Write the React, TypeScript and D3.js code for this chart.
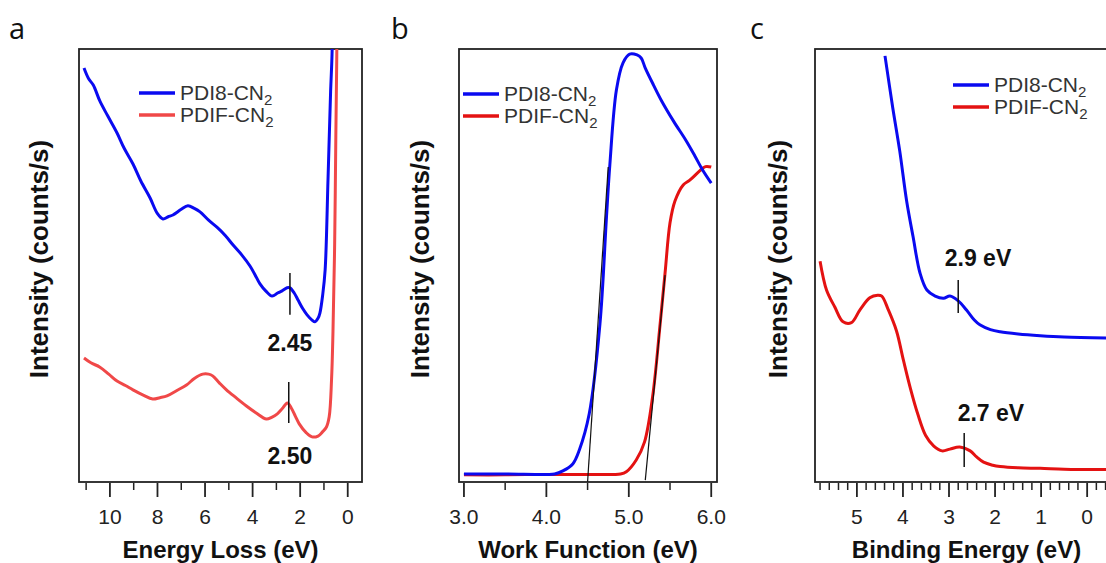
import React from "react";
import * as d3 from "d3";

// ---------- DATA (x in eV, intensity in arbitrary units 0-100) ----------
const lossBlue: [number, number][] = [
  [11.09, 95.4], [10.9, 93.0], [10.7, 91.5], [10.42, 87.8], [10.1, 84.5], [9.7, 80.5], [9.4, 77.0],
  [9.03, 73.4], [8.7, 69.5], [8.31, 65.6], [8.0, 62.0], [7.77, 60.8], [7.55, 61.3], [7.35, 61.7],
  [7.0, 63.0], [6.72, 63.8], [6.45, 63.2], [6.21, 62.4], [5.85, 60.5], [5.5, 58.9], [5.15, 57.0],
  [4.82, 54.8], [4.45, 52.5], [4.11, 50.0], [3.9, 48.0], [3.69, 45.9], [3.45, 44.3], [3.18, 43.1],
  [2.95, 43.8], [2.76, 44.3], [2.55, 45.0], [2.43, 45.0], [2.25, 43.8], [2.09, 42.2], [1.9, 40.3],
  [1.71, 38.8], [1.5, 37.6], [1.38, 37.2], [1.25, 38.0], [1.17, 39.2], [1.05, 43.5], [0.95, 49.1],
  [0.83, 69.7], [0.72, 90.0], [0.66, 98.6], [0.62, 115],
];
const lossRed: [number, number][] = [
  [11.09, 28.9], [10.8, 27.8], [10.42, 26.8], [10.05, 25.2], [9.7, 23.6], [9.35, 22.6], [9.03, 21.6],
  [8.6, 20.4], [8.2, 19.5], [7.9, 19.8], [7.6, 20.2], [7.2, 21.4], [6.78, 22.7], [6.45, 24.2],
  [6.1, 25.2], [5.85, 25.2], [5.68, 24.8], [5.4, 23.2], [5.1, 21.6], [4.7, 19.8], [4.26, 17.9],
  [3.85, 16.3], [3.42, 14.9], [3.2, 15.3], [2.96, 16.1], [2.75, 17.3], [2.54, 18.6], [2.38, 17.5],
  [2.2, 15.5], [2.04, 13.8], [1.75, 11.8], [1.5, 10.8], [1.25, 11.0], [1.07, 11.9], [0.9, 13.0],
  [0.78, 15.4], [0.68, 24.0], [0.62, 35.0], [0.55, 55.0], [0.5, 80.0], [0.46, 98.6], [0.44, 115],
];

const wfBlue: [number, number][] = [
  [3.0, 2.3], [3.5, 2.3], [4.0, 2.2], [4.1, 2.3], [4.2, 3.0], [4.32, 4.6], [4.4, 7.8], [4.52, 16.1],
  [4.65, 36.7], [4.73, 61.5], [4.77, 73.2], [4.85, 90.4], [4.93, 96.6], [5.01, 98.6], [5.1, 98.4],
  [5.15, 97.7], [5.2, 95.4], [5.3, 91.5], [5.4, 87.8], [5.55, 83.0], [5.69, 78.9], [5.8, 75.3],
  [5.89, 72.2], [6.0, 69.0],
];
const wfRed: [number, number][] = [
  [3.0, 2.1], [3.5, 2.1], [4.0, 2.2], [4.5, 2.2], [4.9, 2.3], [4.97, 2.8], [5.09, 5.5], [5.19, 9.6],
  [5.29, 20.2], [5.38, 36.7], [5.44, 48.4], [5.5, 59.9], [5.56, 64.9], [5.66, 68.6], [5.74, 69.7],
  [5.86, 71.8], [5.93, 72.8], [6.0, 72.7],
];
const wfTangentStart: [number, number][] = [[4.5, 0.5], [5.2, 0.9]];
const wfTangentEnd: [number, number][] = [[4.75, 72.7], [5.44, 47.9]];

const beBlue: [number, number][] = [
  [4.39, 98.2], [4.22, 86.2], [4.07, 76.4], [3.92, 64.9], [3.78, 56.7], [3.63, 48.4], [3.48, 44.5],
  [3.3, 43.1], [3.12, 42.6], [2.98, 43.1], [2.8, 42.0], [2.62, 39.9], [2.45, 37.6], [2.33, 36.5],
  [2.1, 35.4], [1.89, 34.9], [1.5, 34.4], [1.02, 34.0], [0.5, 33.7], [-0.43, 33.5],
];
const beRed: [number, number][] = [
  [5.8, 51.1], [5.66, 44.5], [5.48, 40.6], [5.3, 37.2], [5.12, 37.0], [4.93, 40.0], [4.72, 42.7],
  [4.55, 43.3], [4.46, 43.1], [4.32, 40.0], [4.14, 35.1], [3.99, 28.4], [3.84, 22.0], [3.68, 16.1],
  [3.51, 11.2], [3.33, 8.7], [3.15, 7.6], [2.98, 8.0], [2.77, 8.5], [2.54, 7.6], [2.4, 6.2],
  [2.25, 5.0], [2.05, 4.3], [1.89, 4.0], [1.5, 3.7], [1.02, 3.6], [0.5, 3.4], [-0.43, 3.3],
];

const lossTicks = [10, 8, 6, 4, 2, 0];
const lossMinor = [11, 9, 7, 5, 3, 1];
const wfTicks = [3.0, 4.0, 5.0, 6.0];
const wfMinor = [3.5, 4.5, 5.5];
const beTicks = [5, 4, 3, 2, 1, 0];

const seriesNames = ["PDI8-CN", "PDIF-CN"];

// Annotation markers: [x, yLow, yHigh]
const lossMarkers: [number, number, number][] = [[2.43, 38.8, 48.4], [2.48, 14.0, 23.4]];
const lossMarkerLabels = ["2.45", "2.50"];
const lossLabelPos: [number, number][] = [[2.43, 32.3], [2.43, 6.6]];
const beMarkers: [number, number, number][] = [[2.8, 39.2, 46.8], [2.67, 3.9, 11.7]];
const beMarkerLabels = ["2.9 eV", "2.7 eV"];
const beLabelPos: [number, number][] = [[2.37, 51.8], [2.09, 16.3]];

// ---------- LAYOUT ----------
const W = 1106, H = 563;
const TOP = 49, BOTTOM = 482;
const BLUE = "#0a0af0";
const RED_A = "#f04848";
const RED = "#e41212";
const FONT = "'Liberation Sans', Arial, sans-serif";

const yScale = d3.scaleLinear().domain([0, 100]).range([484, 48]);

type PanelProps = {
  id: string;
  letter: string;
  letterX: number;
  x: d3.ScaleLinear<number, number>;
  left: number;
  right: number;
  ticks: number[];
  minor: number[];
  fmt: (v: number) => string;
  xTitle: string;
  yTitleX: number;
  blue: [number, number][];
  red: [number, number][];
  redColor: string;
  legendX: number;
  legendY: number;
  children?: React.ReactNode;
};

function Panel(p: PanelProps) {
  const line = d3
    .line<[number, number]>()
    .x((d) => p.x(d[0]))
    .y((d) => yScale(d[1]))
    .curve(d3.curveCatmullRom.alpha(0.5));
  const clipId = "clip-" + p.id;
  const cx = (p.left + p.right) / 2;
  return (
    <g>
      <defs>
        <clipPath id={clipId}>
          <rect x={p.left} y={TOP} width={p.right - p.left} height={BOTTOM - TOP} />
        </clipPath>
      </defs>
      <text x={p.letterX} y={39} fontFamily="'Open Sans', sans-serif" fontSize={29} fill="#111">
        {p.letter}
      </text>
      <rect x={p.left} y={TOP} width={p.right - p.left} height={BOTTOM - TOP} fill="none" stroke="#222" strokeWidth={1.8} />
      {p.ticks.map((t) => (
        <g key={"t" + t}>
          <line x1={p.x(t)} x2={p.x(t)} y1={BOTTOM + 1} y2={BOTTOM + 15} stroke="#222" strokeWidth={1.8} />
          <text x={p.x(t)} y={524} textAnchor="middle" fontFamily={FONT} fontSize={21} fill="#222">
            {p.fmt(t)}
          </text>
        </g>
      ))}
      {p.minor.map((t) => (
        <line key={"m" + t} x1={p.x(t)} x2={p.x(t)} y1={BOTTOM + 1} y2={BOTTOM + 8} stroke="#222" strokeWidth={1.5} />
      ))}
      <text x={cx} y={558} textAnchor="middle" fontFamily={FONT} fontWeight="bold" fontSize={24} fill="#111">
        {p.xTitle}
      </text>
      <text
        transform={`translate(${p.yTitleX},${259}) rotate(-90)`}
        textAnchor="middle"
        dominantBaseline="central"
        fontFamily={FONT}
        fontWeight="bold"
        fontSize={26}
        fill="#111"
      >
        Intensity (counts/s)
      </text>
      <g clipPath={`url(#${clipId})`}>
        <path d={line(p.red) || ""} fill="none" stroke={p.redColor} strokeWidth={3} strokeLinejoin="round" />
        <path d={line(p.blue) || ""} fill="none" stroke={BLUE} strokeWidth={3} strokeLinejoin="round" />
        {p.children}
      </g>
      {[BLUE, p.redColor].map((c, i) => (
        <g key={c}>
          <line x1={p.legendX} x2={p.legendX + 36} y1={p.legendY + i * 22} y2={p.legendY + i * 22} stroke={c} strokeWidth={3.5} />
          <text x={p.legendX + 41} y={p.legendY + i * 22 + 7} fontFamily={FONT} fontSize={21} fill="#333">
            <tspan>{seriesNames[i]}</tspan>
            <tspan fontSize={15} dy={5}>2</tspan>
          </text>
        </g>
      ))}
    </g>
  );
}

export default function App() {
  const xa = d3.scaleLinear().domain([11.3, -0.6]).range([79, 362]);
  const xb = d3.scaleLinear().domain([2.94, 6.07]).range([459, 717]);
  const xc = d3.scaleLinear().domain([5.91, -0.67]).range([815, 1118]);
  const beMinor = d3.range(-6, 59, 2).map((v) => v / 10).filter((v) => Math.abs(v - Math.round(v)) > 1e-6);

  return (
    <svg width={W} height={H} style={{ position: "absolute", left: 0, top: 0, background: "#fff" }}>
      <rect width={W} height={H} fill="#fff" />
      <Panel
        id="a" letter="a" letterX={9} x={xa} left={79} right={362}
        ticks={lossTicks} minor={lossMinor} fmt={(v) => String(v)}
        xTitle="Energy Loss (eV)" yTitleX={39}
        blue={lossBlue} red={lossRed} redColor={RED_A} legendX={139} legendY={93}
      >
        {lossMarkers.map((m, i) => (
          <line key={"lm" + i} x1={xa(m[0])} x2={xa(m[0])} y1={yScale(m[1])} y2={yScale(m[2])} stroke="#111" strokeWidth={1.5} />
        ))}
        {lossMarkerLabels.map((l, i) => (
          <text key={"ll" + i} x={xa(lossLabelPos[i][0])} y={yScale(lossLabelPos[i][1])} dy="0.36em" textAnchor="middle"
            fontFamily={FONT} fontWeight="bold" fontSize={23} fill="#111">{l}</text>
        ))}
      </Panel>
      <Panel
        id="b" letter="b" letterX={391} x={xb} left={459} right={717}
        ticks={wfTicks} minor={wfMinor} fmt={(v) => v.toFixed(1)}
        xTitle="Work Function (eV)" yTitleX={420}
        blue={wfBlue} red={wfRed} redColor={RED} legendX={463} legendY={94}
      >
        {wfTangentStart.map((s, i) => (
          <line key={"tg" + i} x1={xb(s[0])} y1={yScale(s[1])} x2={xb(wfTangentEnd[i][0])} y2={yScale(wfTangentEnd[i][1])}
            stroke="#111" strokeWidth={1.2} />
        ))}
      </Panel>
      <Panel
        id="c" letter="c" letterX={750} x={xc} left={815} right={1118}
        ticks={beTicks} minor={beMinor} fmt={(v) => String(v)}
        xTitle="Binding Energy (eV)" yTitleX={778}
        blue={beBlue} red={beRed} redColor={RED} legendX={953} legendY={85}
      >
        {beMarkers.map((m, i) => (
          <line key={"bm" + i} x1={xc(m[0])} x2={xc(m[0])} y1={yScale(m[1])} y2={yScale(m[2])} stroke="#111" strokeWidth={1.5} />
        ))}
        {beMarkerLabels.map((l, i) => (
          <text key={"bl" + i} x={xc(beLabelPos[i][0])} y={yScale(beLabelPos[i][1])} dy="0.36em" textAnchor="middle"
            fontFamily={FONT} fontWeight="bold" fontSize={23} fill="#111">{l}</text>
        ))}
      </Panel>
    </svg>
  );
}
